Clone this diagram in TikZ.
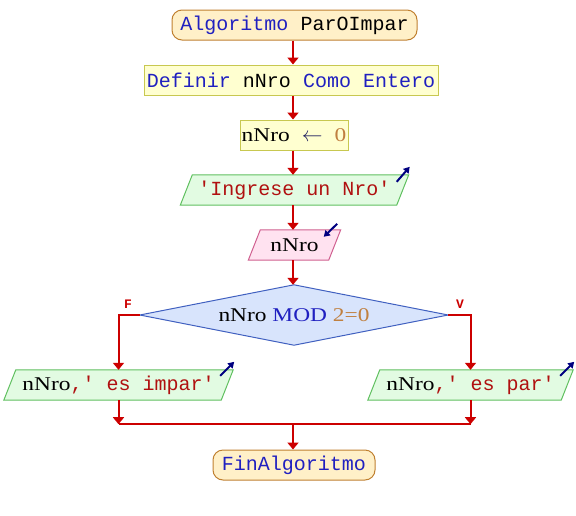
\documentclass[tikz,border=0pt]{standalone}
\usepackage{fontspec}
\setmainfont{Liberation Mono}[Ligatures=TeXOff]
\newfontfamily\idfont[FakeStretch=1.2]{Liberation Serif}
\newfontfamily\lblfont{Liberation Mono}
\usetikzlibrary{arrows.meta,calc,backgrounds}

\definecolor{kwblue}{HTML}{2020C0}
\definecolor{numbrown}{HTML}{C08040}
\definecolor{strred}{HTML}{B01010}
\definecolor{opdark}{HTML}{202060}
\definecolor{flowred}{HTML}{CC0000}
\definecolor{iconblue}{HTML}{000080}
\definecolor{termfill}{HTML}{FFF0C8}
\definecolor{termline}{HTML}{C08030}
\definecolor{procfill}{HTML}{FFFFD0}
\definecolor{procline}{HTML}{C8C850}
\definecolor{outfill}{HTML}{E2FBE2}
\definecolor{outline}{HTML}{60C060}
\definecolor{infill}{HTML}{FFE2F0}
\definecolor{inline}{HTML}{D06090}
\definecolor{condfill}{HTML}{D8E4FC}
\definecolor{condline}{HTML}{4060C0}

% token helpers
\newcommand\kw[1]{\textcolor{kwblue}{#1}}
\newcommand\num[1]{\textcolor{numbrown}{#1}}
\newcommand\str[1]{\textcolor{strred}{#1}}
\newcommand\ident[1]{{\idfont\fontsize{19.5}{22}\selectfont #1}}

% slanted box for input/output, drawn behind a named node
\newcommand\slantbox[3]{%
  \begin{scope}[on background layer]
    \filldraw[fill=#2,draw=#3,line width=1pt]
      ($(#1.north west)+(6,0)$) -- ($(#1.north east)+(6,0)$) --
      ($(#1.south east)-(6,0)$) -- ($(#1.south west)-(6,0)$) -- cycle;
  \end{scope}}

\begin{document}
\begin{tikzpicture}[x=1pt,y=-1pt,
  every node/.style={font=\fontsize{20}{24}\selectfont, inner sep=0pt},
  term/.style={draw=termline, fill=termfill, line width=1pt, rounded corners=10pt, minimum height=30pt},
  proc/.style={draw=procline, fill=procfill, line width=1pt, minimum height=30pt},
  iobox/.style={minimum height=30pt},
  flow/.style={draw=flowred, line width=2pt, -{Triangle[length=7pt,width=11pt]}},
  flowline/.style={draw=flowred, line width=2pt},
  icon/.style={draw=iconblue, line width=2pt, -{Triangle[length=6pt,width=7pt]}},
  lbl/.style={font=\lblfont\bfseries\fontsize{13}{14}\selectfont, text=flowred}]

  \useasboundingbox (0,0) rectangle (576,515);
  \coordinate (axis) at (293,0);

  \node[term, minimum width=245pt] (start) at (294.5,25) {\kw{Algoritmo} ParOImpar};
  \node[proc, minimum width=294pt] (def) at (291,80) {\kw{Definir} nNro \kw{Como Entero}};
  \node[proc, minimum width=108pt] (asg) at (294,135) {\ident{nNro} \textcolor{opdark}{$\leftarrow$} \ident{\num{0}}};

  \node[iobox, minimum width=216pt] (ask) at (294.5,190) {\str{'Ingrese un Nro'}};
  \slantbox{ask}{outfill}{outline}

  \node[iobox, minimum width=80pt] (read) at (294.5,245) {\ident{nNro}};
  \slantbox{read}{infill}{inline}

  \node[minimum width=308pt, minimum height=60pt] (cond) at (294,315)
    {\ident{nNro \kw{MOD} \num{2=0}}};
  \begin{scope}[on background layer]
    \filldraw[fill=condfill, draw=condline, line width=1pt]
      (cond.north) -- (cond.east) -- (cond.south) -- (cond.west) -- cycle;
  \end{scope}

  \node[iobox, minimum width=217pt] (odd) at (118.5,385) {\ident{nNro}\str{,' es impar'}};
  \slantbox{odd}{outfill}{outline}
  \node[iobox, minimum width=193pt] (even) at (470.5,385) {\ident{nNro}\str{,' es par'}};
  \slantbox{even}{outfill}{outline}

  \node[term, minimum width=162pt] (fin) at (294,465) {\kw{FinAlgoritmo}};

  \node[lbl] (lf) at (128,304) {F};
  \node[lbl] (lv) at (460,304) {V};

  % main flow, along one vertical axis
  \draw[flow] (start.south -| axis) -- (def.north -| axis);
  \draw[flow] (def.south -| axis) -- (asg.north -| axis);
  \draw[flow] (asg.south -| axis) -- (ask.north -| axis);
  \draw[flow] (ask.south -| axis) -- (read.north -| axis);
  \draw[flow] (read.south -| axis) -- (cond.north -| axis);
  \draw[flow] (cond.west) -| (odd.north);
  \draw[flow] (cond.east) -| (even.north);

  % merge of both branches
  \coordinate (mL) at ($(odd.south)+(0,24)$);
  \coordinate (mR) at (even.south |- mL);
  \coordinate (mC) at (axis |- mL);
  \draw[flowline] (mL) -- (mR);
  \draw[flow] (odd.south) -- (mL);
  \draw[flow] (even.south) -- (mR);
  \draw[flow] (mC) -- (fin.north -| axis);

  % direction marks on input/output boxes
  \coordinate (askc) at ($(ask.north east)+(6,0)$);
  \draw[icon] ($(askc)+(-12,7)$) -- ($(askc)+(1,-8)$);
  \coordinate (readc) at ($(read.north east)+(6,0)$);
  \draw[icon] ($(readc)+(-3.5,-6)$) -- ($(readc)+(-17,7)$);
  \coordinate (oddc) at ($(odd.north east)+(6,0)$);
  \draw[icon] ($(oddc)+(-13,6)$) -- ($(oddc)+(1,-8)$);
  \coordinate (evenc) at ($(even.north east)+(6,0)$);
  \draw[icon] ($(evenc)+(-13,6)$) -- ($(evenc)+(1,-8)$);
\end{tikzpicture}
\end{document}
